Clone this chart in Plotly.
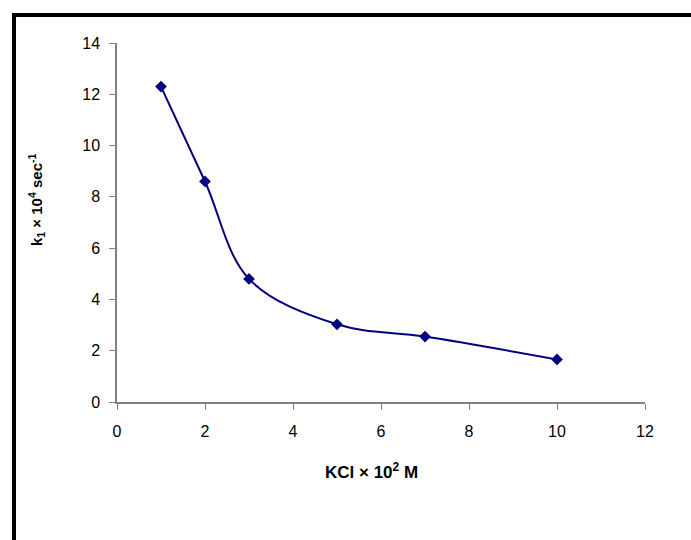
import plotly.graph_objects as go

kcl = [1, 2, 3, 5, 7, 10]
k1 = [12.3, 8.6, 4.8, 3.03, 2.55, 1.66]
x_ticks = [0, 2, 4, 6, 8, 10, 12]
y_ticks = [0, 2, 4, 6, 8, 10, 12, 14]

W, H = 691, 540
L, R, T, B = 117, 46, 43, 138
pw, ph = W - L - R, H - T - B

def px2paper_x(px):
    return (px - L) / pw

def px2paper_y(py):
    return (H - B - py) / ph

FONT = "Liberation Sans, Arial"

fig = go.Figure()
fig.add_trace(go.Scatter(
    x=kcl, y=k1, mode="lines+markers",
    line=dict(color="#000080", width=2, shape="spline", smoothing=1),
    marker=dict(symbol="diamond", size=9, color="#000080"),
    showlegend=False,
))

axis_common = dict(
    showgrid=False, zeroline=False, showline=True, linecolor="#808080", linewidth=1.5,
    ticks="outside", ticklen=6, tickcolor="#808080", tickwidth=1,
    tickfont=dict(family=FONT, size=16, color="#000000"),
)

fig.update_layout(
    width=W, height=H,
    margin=dict(l=L, r=R, t=T, b=B),
    paper_bgcolor="white", plot_bgcolor="white",
    xaxis=dict(range=[0, 12], tickvals=x_ticks, ticklabelstandoff=8, **axis_common),
    yaxis=dict(range=[0, 14], tickvals=y_ticks, ticklabelstandoff=6, **axis_common),
    annotations=[
        dict(text="<b>KCl × 10<sup>2</sup> M</b>", xref="paper", yref="paper",
             x=px2paper_x(371), y=px2paper_y(471), xanchor="center", yanchor="middle",
             showarrow=False, font=dict(family=FONT, size=17, color="#000000")),
        dict(text="<b>k<sub>1</sub> × 10<sup>4</sup> sec<sup>-1</sup></b>", xref="paper", yref="paper",
             x=px2paper_x(37), y=px2paper_y(200), xanchor="center", yanchor="middle",
             textangle=-90, showarrow=False, font=dict(family=FONT, size=15, color="#000000")),
    ],
    shapes=[dict(type="rect", xref="paper", yref="paper",
                 x0=px2paper_x(14), x1=px2paper_x(720),
                 y0=px2paper_y(570), y1=px2paper_y(15),
                 line=dict(color="black", width=4), fillcolor="rgba(0,0,0,0)", layer="below")],
)

fig.write_html("out.html")
